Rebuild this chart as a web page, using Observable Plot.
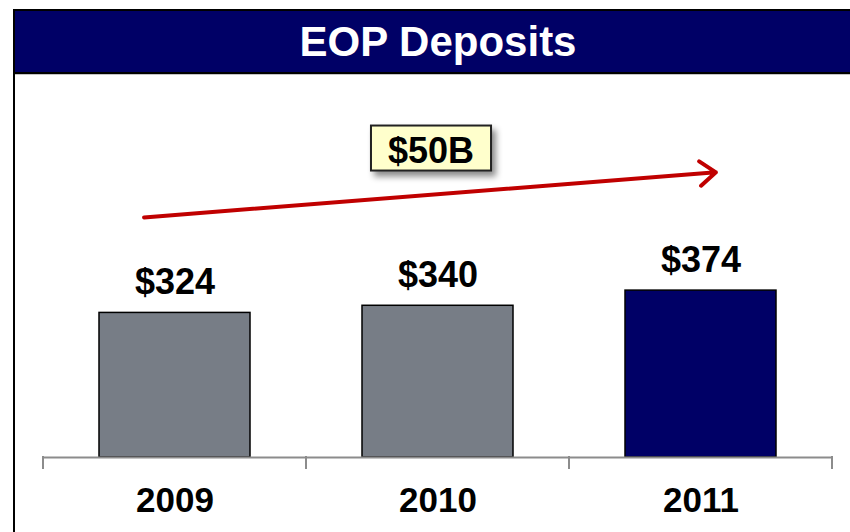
<!DOCTYPE html>
<html>
<head>
<meta charset="utf-8">
<script src="https://cdn.jsdelivr.net/npm/d3@7"></script>
<script src="https://cdn.jsdelivr.net/npm/@observablehq/plot@0.6"></script>
<style>
  html, body { margin: 0; padding: 0; width: 850px; height: 532px; overflow: hidden; background: #fff;
    font-family: "Liberation Sans", Arial, sans-serif; }
  #topline { position: absolute; left: 13px; top: 9px; width: 850px; height: 2px; background: #000; }
  #leftline { position: absolute; left: 13px; top: 9px; width: 2px; height: 530px; background: #000; z-index: 3; }
  #header { position: absolute; left: 15px; top: 11px; width: 846px; height: 61px; background: #000066;
    border-bottom: 2px solid #000; box-shadow: 0 1px 0 #c4c4c4; color: #fff; font-weight: bold;
    font-size: 42px; line-height: 62px; text-align: center; }
  #chart { position: absolute; left: 0; top: 75px; width: 850px; height: 457px; }
  #chart svg { display: block; }
</style>
</head>
<body>
<div id="topline"></div>
<div id="header">EOP Deposits</div>
<div id="leftline"></div>
<div id="chart"></div>
<script>
// ---- data ----
const years = ["2009", "2010", "2011"];
const deposits = [324, 340, 374];
const valueLabels = ["$324", "$340", "$374"];
const barColors = ["#777d86", "#777d86", "#000066"];
const growthLabel = "$50B";

const data = years.map((year, i) => ({ year, value: deposits[i], label: valueLabels[i], color: barColors[i] }));

// annotation anchors (in chart units)
const growthArrow = [{ from: "2009", to: "2011", y1: 542, y2: 635 }];
const growthText = [{ year: "2010", y: 661, text: growthLabel }];

const chart = Plot.plot({
  width: 850,
  height: 457,
  marginLeft: 42,
  marginRight: 17,
  marginTop: 25,
  marginBottom: 75,
  style: { background: "transparent", fontFamily: "Liberation Sans, Arial, sans-serif", overflow: "visible" },
  x: { domain: years, paddingInner: 0.424, paddingOuter: 0.212, align: 0.5, label: null },
  y: { domain: [0, 800], axis: null },
  color: { type: "identity" },
  marks: [
    Plot.barY(data, { x: "year", y: "value", fill: "color", stroke: "#000", strokeWidth: 1.5 }),
    Plot.ruleY([0], { stroke: "#8c8c8c", strokeWidth: 2 }),
    Plot.text(data, { x: "year", y: "value", text: "label", lineAnchor: "bottom", dy: -19,
      fontSize: 36, fontWeight: "bold", fill: "#000" }),
    Plot.axisX({ tickSize: 0, tickPadding: 30, fontSize: 35, fontWeight: "bold", color: "#000", label: null }),
    Plot.arrow(growthArrow, { x1: "from", y1: "y1", x2: "to", y2: "y2", stroke: "#c00000", strokeWidth: 4,
      headLength: 7.5, headAngle: 75, insetStart: -23, insetEnd: -23, dx: -8 }),
    Plot.text(growthText, { x: "year", y: "y", text: "text", dx: -7, lineAnchor: "bottom",
      fontSize: 36, fontWeight: "bold", fill: "#000" })
  ]
});

document.getElementById("chart").append(chart);

// category boundary ticks on the baseline, derived from the band scale
const xs = chart.scale("x");
const ys = chart.scale("y");
const svg = d3.select(chart);
const gap = (xs.step - xs.bandwidth) / 2;
const bounds = years.map((y) => xs.apply(y) - gap)
  .concat([xs.apply(years[years.length - 1]) + xs.bandwidth + gap]);
const y0 = ys.apply(0);
svg.append("g").selectAll("line").data(bounds).join("line")
  .attr("x1", (d) => d).attr("x2", (d) => d)
  .attr("y1", y0 - 1).attr("y2", y0 + 12)
  .attr("stroke", "#8c8c8c").attr("stroke-width", 2);

// callout box behind the growth label
const defs = svg.insert("defs", ":first-child");
const f = defs.append("filter").attr("id", "shadow").attr("x", "-20%").attr("y", "-30%")
  .attr("width", "150%").attr("height", "180%");
f.append("feDropShadow").attr("dx", 4).attr("dy", 5).attr("stdDeviation", 3)
  .attr("flood-color", "#000").attr("flood-opacity", 0.45);
svg.selectAll("text").filter(function () { return this.textContent === growthLabel; })
  .each(function () {
    const b = this.getBBox();
    const r = d3.select(this.parentNode).insert("rect", () => this)
      .attr("x", b.x - 17).attr("y", b.y - 4)
      .attr("width", b.width + 34).attr("height", b.height + 4)
      .attr("fill", "#ffffcc").attr("stroke", "#222").attr("stroke-width", 2)
      .attr("filter", "url(#shadow)");
    const t = this.getAttribute("transform");
    if (t) r.attr("transform", t);
    if (this.getAttribute("x") != null) {
      // if position is in x/y attributes instead of transform, offset by them
      const tx = +this.getAttribute("x") || 0, ty = +this.getAttribute("y") || 0;
      if (!t) r.attr("transform", `translate(${tx},${ty})`).attr("x", b.x - 17 - tx).attr("y", b.y - 4 - ty);
    }
  });
</script>
</body>
</html>
